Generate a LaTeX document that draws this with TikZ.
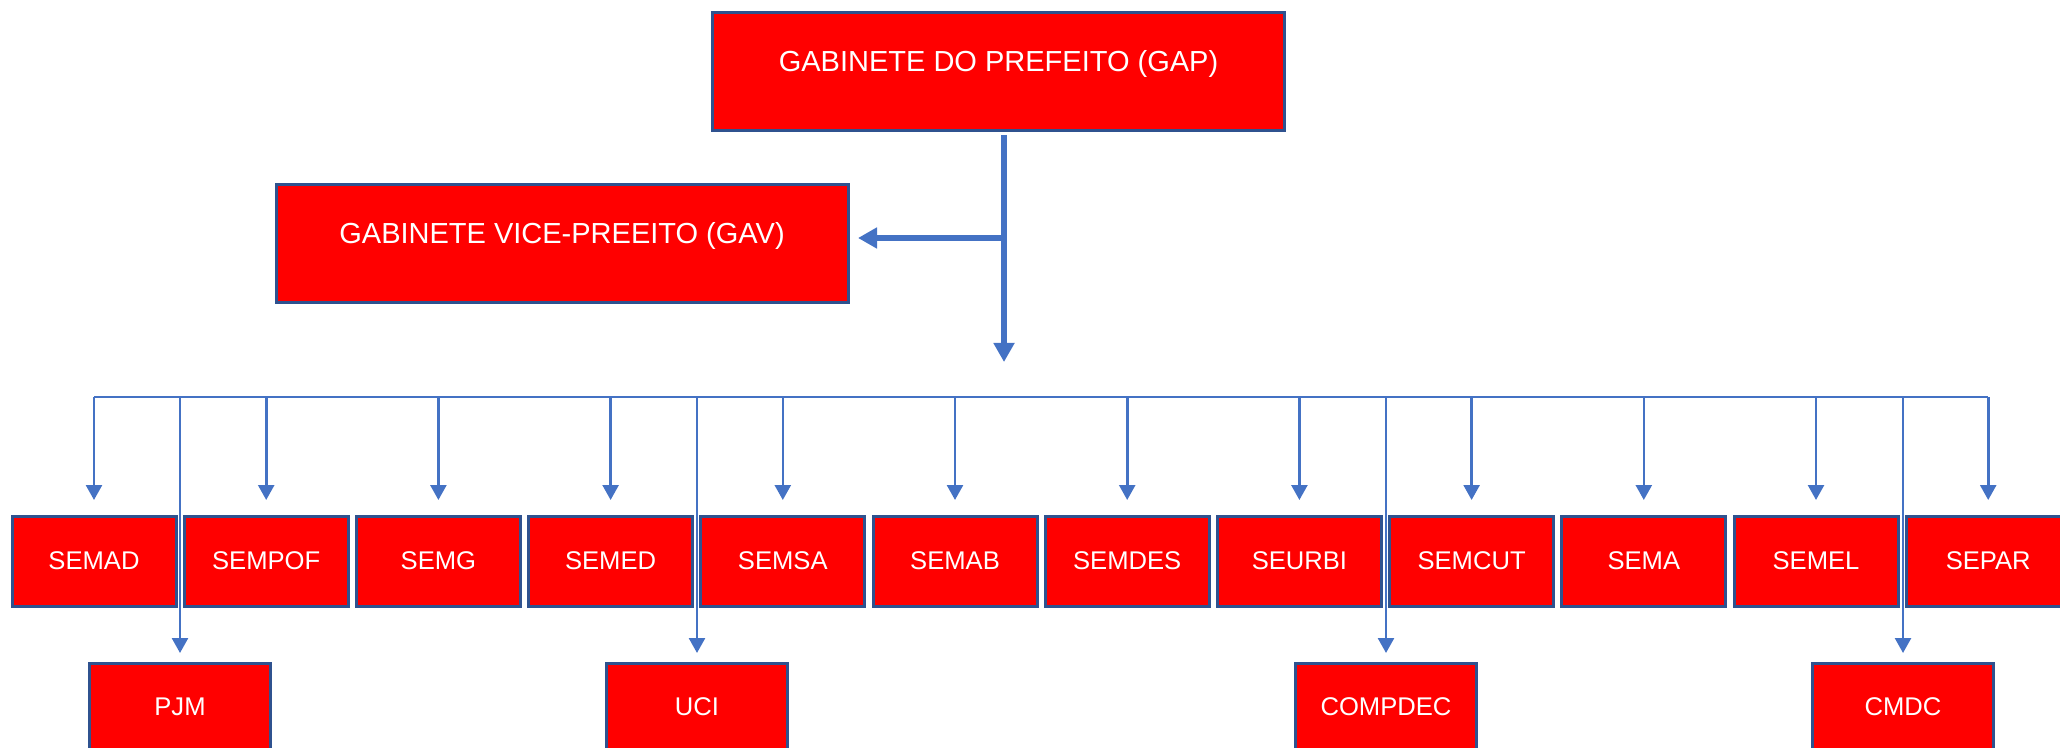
\documentclass[tikz,border=0pt]{standalone}
\usepackage{fontspec}
\setmainfont{Liberation Sans}
\usetikzlibrary{arrows.meta, positioning}
\definecolor{boxRed}{RGB}{255,0,0}
\definecolor{boxBorder}{RGB}{47,82,143}
\definecolor{linkBlue}{RGB}{68,114,196}

\begin{document}
\begin{tikzpicture}[x=0.5pt, y=-0.5pt]
	\tikzstyle{Gabinete} = [rectangle, minimum width=286pt, minimum height=59pt, text height=11pt, text depth=11pt, inner sep=0pt, draw=boxBorder, line width=1.5pt, fill=boxRed, text=white, font=\fontsize{14.5}{17}\selectfont]
	\tikzstyle{Secretaria} = [rectangle, minimum width=82pt, minimum height=45pt, inner sep=0pt, draw=boxBorder, line width=1.5pt, fill=boxRed, text=white, font=\fontsize{12.8}{15}\selectfont]
	\tikzstyle{Orgao} = [Secretaria, minimum width=90.5pt, minimum height=44pt]
	\tikzstyle{mainArrow} = [line width=3pt, draw=linkBlue, -{Triangle[length=9.5pt, width=10pt]}]
	\tikzstyle{busLine} = [line width=1.3pt, draw=linkBlue]
	\tikzstyle{arrow} = [busLine, -{Triangle[length=7.5pt, width=8pt]}]
	
	\useasboundingbox (0,0) rectangle (2060,748);
	\clip (0,0) rectangle (2060,748);
	
	\node (gabinetePrefeito) [Gabinete] at (998.5,71.5) {GABINETE DO PREFEITO (GAP)};
	\node (gabineteVice) [Gabinete] at (562,244) {GABINETE VICE-PREEITO (GAV)};
	
	\node (semad) [Secretaria] at (94,561) {SEMAD};
	\node (sempof) [Secretaria, right = 2.6pt of semad] {SEMPOF};
	\node (semg) [Secretaria, right = 2.6pt of sempof] {SEMG};
	\node (semed) [Secretaria, right = 2.6pt of semg] {SEMED};
	\node (semsa) [Secretaria, right = 2.6pt of semed] {SEMSA};
	\node (semab) [Secretaria, right = 2.6pt of semsa] {SEMAB};
	\node (semdes) [Secretaria, right = 2.6pt of semab] {SEMDES};
	\node (seurbi) [Secretaria, right = 2.6pt of semdes] {SEURBI};
	\node (semcut) [Secretaria, right = 2.6pt of seurbi] {SEMCUT};
	\node (sema) [Secretaria, right = 2.6pt of semcut] {SEMA};
	\node (semel) [Secretaria, right = 2.6pt of sema] {SEMEL};
	\node (separ) [Secretaria, right = 2.6pt of semel] {SEPAR};
	
	\node (pjm) [Orgao] at (180,707) {PJM};
	\node (uci) [Orgao] at (697,707) {UCI};
	\node (compdec) [Orgao] at (1386,707) {COMPDEC};
	\node (cmdc) [Orgao] at (1903,707) {CMDC};
	
	\coordinate (split) at (1004,238);
	\coordinate (hub) at (1004,362);
	\coordinate (bus) at (0,397);
	
	\draw[mainArrow, shorten <=1.5pt] (gabinetePrefeito.south -| hub) -- (hub);
	\draw[mainArrow, shorten >=4.25pt] (split) -- (split -| gabineteVice.east);
	
	\draw[busLine] (semad.north |- bus) -- (separ.north |- bus);
	\foreach \sec in {semad,sempof,semg,semed,semsa,semab,semdes,seurbi,semcut,sema,semel,separ}
		\draw[arrow, shorten >=7.25pt] (\sec.north |- bus) -- (\sec.north);
	\foreach \org in {pjm,uci,compdec,cmdc}
		\draw[arrow, shorten >=4.25pt] (\org.north |- bus) -- (\org.north);
\end{tikzpicture}
\end{document}
